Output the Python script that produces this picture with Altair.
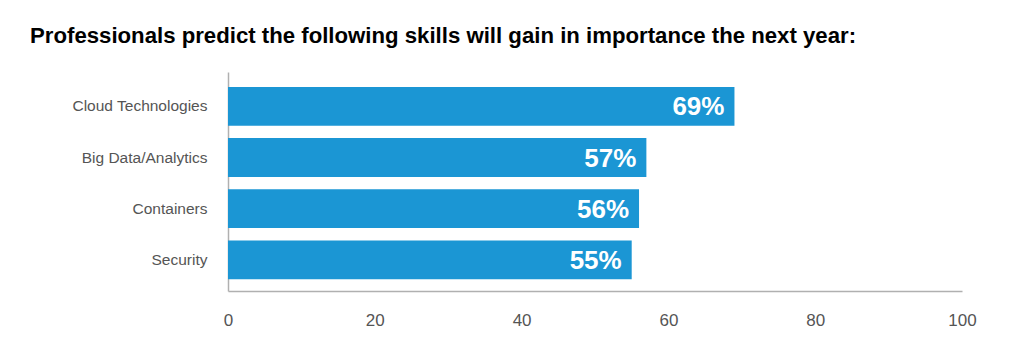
import altair as alt
import pandas as pd

skills = ["Cloud Technologies", "Big Data/Analytics", "Containers", "Security"]
values = [69, 57, 56, 55]
labels = ["69%", "57%", "56%", "55%"]

df = pd.DataFrame({"skill": skills, "value": values, "label": labels})

FONT = "Liberation Sans"
BLUE = "#1B96D4"

y_enc = alt.Y(
    "skill:N",
    sort=skills,
    title=None,
    scale=alt.Scale(paddingInner=0.24, paddingOuter=0.26, align=0.56),
    axis=alt.Axis(
        domain=True, domainColor="#b0b0b0", domainWidth=1.5, ticks=False,
        labelFont=FONT, labelFontSize=15.5, labelColor="#555555", labelPadding=21,
    ),
)
x_enc = alt.X(
    "value:Q",
    title=None,
    scale=alt.Scale(domain=[0, 100], nice=False),
    axis=alt.Axis(
        values=[0, 20, 40, 60, 80, 100], grid=False, ticks=False, labelFlush=False,
        domain=True, domainColor="#b0b0b0", domainWidth=1.5,
        labelFont=FONT, labelFontSize=17, labelColor="#555555", labelPadding=21,
    ),
)

bars = alt.Chart(df).mark_bar(color=BLUE).encode(x=x_enc, y=y_enc)
text = alt.Chart(df).mark_text(
    align="right", baseline="middle", dx=-10, dy=1, color="white",
    font=FONT, fontSize=26, fontWeight="bold",
).encode(x="value:Q", y=alt.Y("skill:N", sort=skills), text="label:N")

chart = (bars + text).properties(
    width=734,
    height=219,
    title=alt.TitleParams(
        "Professionals predict the following skills will gain in importance the next year:",
        anchor="start", frame="group", dx=-198, offset=7, baseline="alphabetic",
        font=FONT, fontSize=22.2, fontWeight="bold", color="#000000",
    ),
    autosize=alt.AutoSizeParams(type="none"),
    padding={"left": 228, "top": 72, "right": 62, "bottom": 52},
).configure(background="white").configure_view(strokeWidth=0, stroke=None)

chart.save("out.html", embed_options={"renderer": "svg", "actions": False})
